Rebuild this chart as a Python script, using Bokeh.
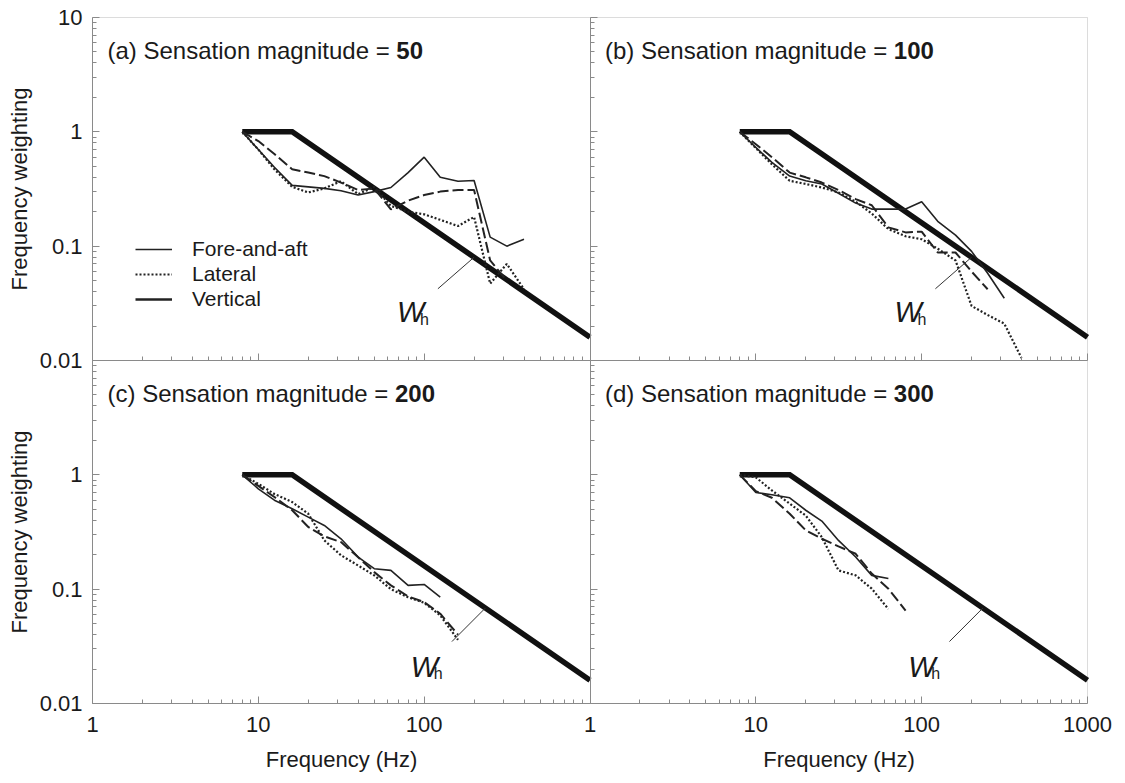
from bokeh.plotting import figure
from bokeh.models import (Range1d, LogScale, LogAxis, FixedTicker, CustomJSTickFormatter, Label,
                          Legend, LegendItem, BoxAnnotation)
from bokeh.embed import file_html
from bokeh.resources import INLINE

# ---------------- data ----------------
freq = [8, 10, 12.5, 16, 20, 25, 31.5, 40, 50, 63, 80, 100, 125, 160, 200, 250, 315, 400]

# (a) sensation magnitude 50
fa_a = [1.0, 0.70, 0.49, 0.34, 0.33, 0.32, 0.305, 0.28, 0.30, 0.326, 0.44, 0.60, 0.40, 0.37, 0.375, 0.12, 0.10, 0.115]
lat_a = [1.0, 0.70, 0.47, 0.33, 0.295, 0.32, 0.37, 0.285, 0.33, 0.225, 0.20, 0.19, 0.17, 0.15, 0.18, 0.047, 0.07, 0.042]
vert_a = [1.0, 0.83, 0.64, 0.47, 0.44, 0.41, 0.36, 0.31, 0.32, 0.21, 0.25, 0.28, 0.30, 0.31, 0.31, 0.075, 0.05]

# (b) sensation magnitude 100
fa_b = [1.0, 0.73, 0.54, 0.41, 0.373, 0.35, 0.29, 0.238, 0.211, 0.211, 0.211, 0.245, 0.165, 0.125, 0.09, 0.058, 0.035]
lat_b = [1.0, 0.72, 0.52, 0.373, 0.35, 0.326, 0.295, 0.245, 0.193, 0.141, 0.122, 0.115, 0.095, 0.075, 0.030, 0.025, 0.021, 0.0105]
vert_b = [1.0, 0.78, 0.60, 0.44, 0.40, 0.36, 0.31, 0.258, 0.228, 0.146, 0.132, 0.134, 0.088, 0.088, 0.06, 0.042]

# (c) sensation magnitude 200
fa_c = [1.0, 0.755, 0.60, 0.505, 0.427, 0.361, 0.276, 0.191, 0.151, 0.146, 0.108, 0.110, 0.085]
lat_c = [1.0, 0.835, 0.68, 0.578, 0.457, 0.267, 0.198, 0.161, 0.132, 0.10, 0.085, 0.076, 0.059, 0.036]
vert_c = [1.0, 0.80, 0.64, 0.49, 0.35, 0.29, 0.258, 0.19, 0.141, 0.108, 0.0865, 0.077, 0.061, 0.04]

# (d) sensation magnitude 300
fa_d = [1.0, 0.70, 0.67, 0.63, 0.49, 0.394, 0.267, 0.191, 0.132, 0.124]
lat_d = [1.0, 0.95, 0.73, 0.56, 0.44, 0.285, 0.146, 0.132, 0.101, 0.067]
vert_d = [1.0, 0.72, 0.63, 0.457, 0.327, 0.276, 0.237, 0.204, 0.137, 0.101, 0.065]

# Wh frequency weighting
wh_f = [8, 16, 1000]
wh_w = [1.0, 1.0, 0.016]

panel_letters = ["(a)", "(b)", "(c)", "(d)"]
magnitudes = ["50", "100", "200", "300"]
series_names = ["Fore-and-aft", "Lateral", "Vertical"]

# Wh annotation: label anchor and leader line (start -> end on Wh)
wh_lab_f = [68.5, 68.5, 83, 83]
wh_lab_w = [0.0263, 0.0263, 0.021, 0.021]
lead_f0 = [121, 121, 147, 147]
lead_w0 = [0.0424, 0.0424, 0.0348, 0.0348]
lead_f1 = [200, 200, 234, 234]
lead_w1 = [0.08, 0.08, 0.0684, 0.0684]

# panel axis ticks (each panel spans 1-1000 Hz and 0.01-10)
x_ticks_left = [1, 10, 100]
x_ticks_right = [1, 10, 100, 1000]
y_ticks_top = [0.01, 0.1, 1, 10]
y_ticks_bottom = [0.01, 0.1, 1]
x_title = "Frequency (Hz)"
y_title = "Frequency weighting"

FONT = "Liberation Sans"
INK = "#1a1a1a"
FRAME = "#8a8a8a"
LINE = "#222222"
NAN = float("nan")

# Arial / Liberation Sans advance widths (em)
ARIAL = {"(": .333, ")": .333, " ": .278, "a": .556, "b": .556, "c": .5, "d": .556, "S": .667,
         "e": .556, "n": .556, "s": .5, "t": .278, "i": .222, "o": .556, "m": .833, "g": .556,
         "u": .556, "=": .584}


def text_width(s, size):
    return sum(ARIAL.get(ch, .556) for ch in s) * size


def minor_between(lo_exp, hi_exp):
    return [m * 10.0 ** e for e in range(lo_exp, hi_exp) for m in range(2, 10)]


# The plot frame fills the whole canvas; the 2x2 panel block sits inside it with
# margins ML/MR/MT/MB.  Left/right panels use two x ranges, upper/lower panels two
# y ranges, each panel covering one half of the block.
W, H = 1125, 783
ML, MR, MT, MB = 92, 38, 17, 80
BW, BH = W - ML - MR, H - MT - MB
DPX = BW / 6.0          # px per decade (x)
DPY = BH / 6.0          # px per decade (y)

p = figure(width=W, height=H, x_axis_type=None, y_axis_type=None,
           x_range=Range1d(10 ** (-ML / DPX), 10 ** (6 + MR / DPX)),
           y_range=Range1d(10 ** (-5 - MB / DPY), 10 ** (1 + MT / DPY)),
           x_axis_location=None, y_axis_location=None,
           output_backend="svg", toolbar_location=None, min_border=0)
p.x_scale = LogScale()
p.y_scale = LogScale()
p.extra_x_ranges = {"right": Range1d(10 ** (-3 - ML / DPX), 10 ** (3 + MR / DPX))}
p.extra_x_scales = {"right": LogScale()}
p.extra_y_ranges = {"bottom": Range1d(10 ** (-2 - MB / DPY), 10 ** (4 + MT / DPY))}
p.extra_y_scales = {"bottom": LogScale()}
p.outline_line_color = None
p.background_fill_color = "white"
p.border_fill_color = "white"

# outer border of the panel block
p.add_layout(BoxAnnotation(left=1, right=1e6, bottom=1e-5, top=10, fill_alpha=0,
                           line_color=FRAME, line_width=1, level="underlay"))

fmt = CustomJSTickFormatter(code="return String(parseFloat(tick.toPrecision(6)));")
blank = CustomJSTickFormatter(code="return '';")


def make_axis(side, ticks, minor, fixed, range_name, bounds, title):
    kw = dict(fixed_location=fixed, bounds=bounds,
              ticker=FixedTicker(ticks=ticks, minor_ticks=minor),
              formatter=fmt if title else blank)
    if side == "below":
        kw["x_range_name"] = range_name
    else:
        kw["y_range_name"] = range_name
    ax = LogAxis(**kw)
    ax.axis_line_color = FRAME
    ax.major_tick_line_color = FRAME
    ax.minor_tick_line_color = FRAME
    ax.major_tick_in = 7
    ax.major_tick_out = 0
    ax.minor_tick_in = 4
    ax.minor_tick_out = 0
    ax.major_label_text_font = FONT
    ax.major_label_text_color = INK
    ax.major_label_text_font_size = "22px"
    if title:
        ax.axis_label = title
        ax.axis_label_text_font = FONT
        ax.axis_label_text_font_style = "normal"
        ax.axis_label_text_color = INK
        ax.axis_label_text_font_size = "22px"
        ax.major_label_standoff = 13 if side == "below" else 10
        ax.axis_label_standoff = 12 if side == "below" else 5
    else:
        ax.major_label_standoff = 0
    p.add_layout(ax, side)
    return ax


# outer axes with labels: one per panel column / row
make_axis("below", x_ticks_left, minor_between(0, 3), 1e-5, "default", (1, 1000), x_title)
make_axis("below", x_ticks_right, minor_between(0, 3), 1e-5, "right", (1, 1000), x_title)
make_axis("left", y_ticks_top, minor_between(-2, 1), 1, "default", (0.01, 10), y_title)
make_axis("left", y_ticks_bottom, minor_between(-2, 1), 1, "bottom", (0.01, 10), y_title)
# inner panel edges: bottom ticks of the upper panels, left ticks of the right panels
make_axis("below", x_ticks_left, minor_between(0, 3), 0.01, "default", (1, 1000), None)
make_axis("below", x_ticks_right, minor_between(0, 3), 0.01, "right", (1, 1000), None)
make_axis("left", y_ticks_top, minor_between(-2, 1), 1000, "default", (0.01, 10), None)
make_axis("left", y_ticks_bottom, minor_between(-2, 1), 1000, "bottom", (0.01, 10), None)

data = [(fa_a, lat_a, vert_a), (fa_b, lat_b, vert_b), (fa_c, lat_c, vert_c), (fa_d, lat_d, vert_d)]
xr_names = ["default", "right", "default", "right"]
yr_names = ["default", "default", "bottom", "bottom"]

for i in range(4):
    fa, lat, vert = data[i]
    rn = dict(x_range_name=xr_names[i], y_range_name=yr_names[i])
    p.line(wh_f, wh_w, line_width=5.5, line_color="#111111", line_join="miter", **rn)
    p.line(freq[:len(fa)], fa, line_width=1.6, line_color=LINE, **rn)
    p.line(freq[:len(lat)], lat, line_width=2.2, line_color=LINE, line_dash="2 2", **rn)
    p.line(freq[:len(vert)], vert, line_width=2.0, line_color=LINE, line_dash="11 4", **rn)
    p.line([lead_f0[i], lead_f1[i]], [lead_w0[i], lead_w1[i]], line_width=1, line_color="#333333", **rn)
    p.add_layout(Label(x=wh_lab_f[i], y=wh_lab_w[i], text="W", text_font=FONT,
                       text_font_style="italic", text_font_size="29px", text_color=INK,
                       text_baseline="alphabetic", **rn))
    p.add_layout(Label(x=wh_lab_f[i], y=wh_lab_w[i], x_offset=23, y_offset=-7, text="h",
                       text_font=FONT, text_font_size="16px", text_color=INK,
                       text_baseline="alphabetic", **rn))
    # panel title (screen px from the canvas bottom-left)
    x0 = ML + 15 + (BW / 2 if i % 2 else 0)
    y0 = MB + (BH / 2 if i < 2 else 0) + BH / 2 - 33
    prefix = panel_letters[i] + " Sensation magnitude = "
    size = 24
    p.add_layout(Label(x=x0, y=y0, x_units="screen", y_units="screen", text=prefix,
                       text_font=FONT, text_font_size="%dpx" % size, text_color=INK,
                       text_baseline="alphabetic"))
    p.add_layout(Label(x=x0 + text_width(prefix, size), y=y0, x_units="screen", y_units="screen",
                       text=magnitudes[i], text_font=FONT, text_font_style="bold",
                       text_font_size="%dpx" % size, text_color=INK,
                       text_baseline="alphabetic"))

# legend key (panel a)
l1 = p.line([NAN], [NAN], line_width=1.6, line_color=LINE)
l2 = p.line([NAN], [NAN], line_width=2.2, line_color=LINE, line_dash="2 2")
l3 = p.line([NAN], [NAN], line_width=2.6, line_color=LINE)
legend = Legend(items=[LegendItem(label=series_names[0], renderers=[l1]),
                       LegendItem(label=series_names[1], renderers=[l2]),
                       LegendItem(label=series_names[2], renderers=[l3])],
                location=(ML + 43, MB + BH / 2 + 49), padding=0, margin=0, spacing=1,
                glyph_width=37, glyph_height=20, label_standoff=20,
                label_text_font=FONT, label_text_font_size="21px",
                label_text_color=INK, background_fill_alpha=0,
                border_line_alpha=0)
p.add_layout(legend)

open("out.html", "w").write(file_html(p, INLINE))
